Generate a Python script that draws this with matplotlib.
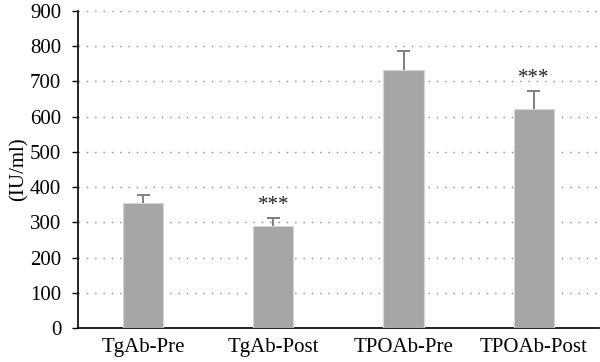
import matplotlib
matplotlib.use('Agg')
import matplotlib.pyplot as plt

categories = ['TgAb-Pre', 'TgAb-Post', 'TPOAb-Pre', 'TPOAb-Post']
means = [355, 288, 731, 621]
errors = [23, 24, 54, 52]
stars = ['', '***', '', '***']
y_ticks = [0, 100, 200, 300, 400, 500, 600, 700, 800, 900]

plt.rcParams['font.family'] = ['Liberation Serif', 'DejaVu Serif']

fig = plt.figure(figsize=(6, 3.62), dpi=100)
ax = fig.add_axes([0.13, 0.094, 0.868, 0.876])

x = list(range(len(categories)))
ax.bar(x, means, width=0.31, color='#a6a6a6', edgecolor='#d4d4d4', linewidth=0.8, zorder=3)

# upper error bars only, cap on top
tops = [m + e for m, e in zip(means, errors)]
ax.vlines(x, means, tops, color='#7f7f7f', linewidth=1.4, zorder=4)
ax.hlines(tops, [xi - 0.05 for xi in x], [xi + 0.05 for xi in x],
          color='#7f7f7f', linewidth=1.4, zorder=4)

# significance marks above the error bars
for xi, t, s in zip(x, tops, stars):
    if s:
        ax.text(xi, t + 8, s, ha='center', va='bottom', fontsize=15, color='#222222')

ax.set_xlim(-0.5, 3.5)
ax.set_ylim(0, 900)
ax.set_yticks(y_ticks)
ax.set_xticks(x)
ax.set_xticklabels(categories, fontsize=15)
ax.tick_params(axis='y', labelsize=15, length=4, width=1, pad=8)
ax.tick_params(axis='x', length=0, pad=7)
ax.yaxis.grid(True, linestyle=(0, (1, 5)), color='#888888', linewidth=1, zorder=0)
ax.set_axisbelow(True)
ax.spines['top'].set_visible(False)
ax.spines['right'].set_visible(False)
ax.spines['left'].set_linewidth(1.2)
ax.spines['bottom'].set_linewidth(1.2)
ax.set_ylabel('(IU/ml)', fontsize=15)
ax.yaxis.set_label_coords(-0.094, 0.5)

fig.savefig('out.png', dpi=100)
